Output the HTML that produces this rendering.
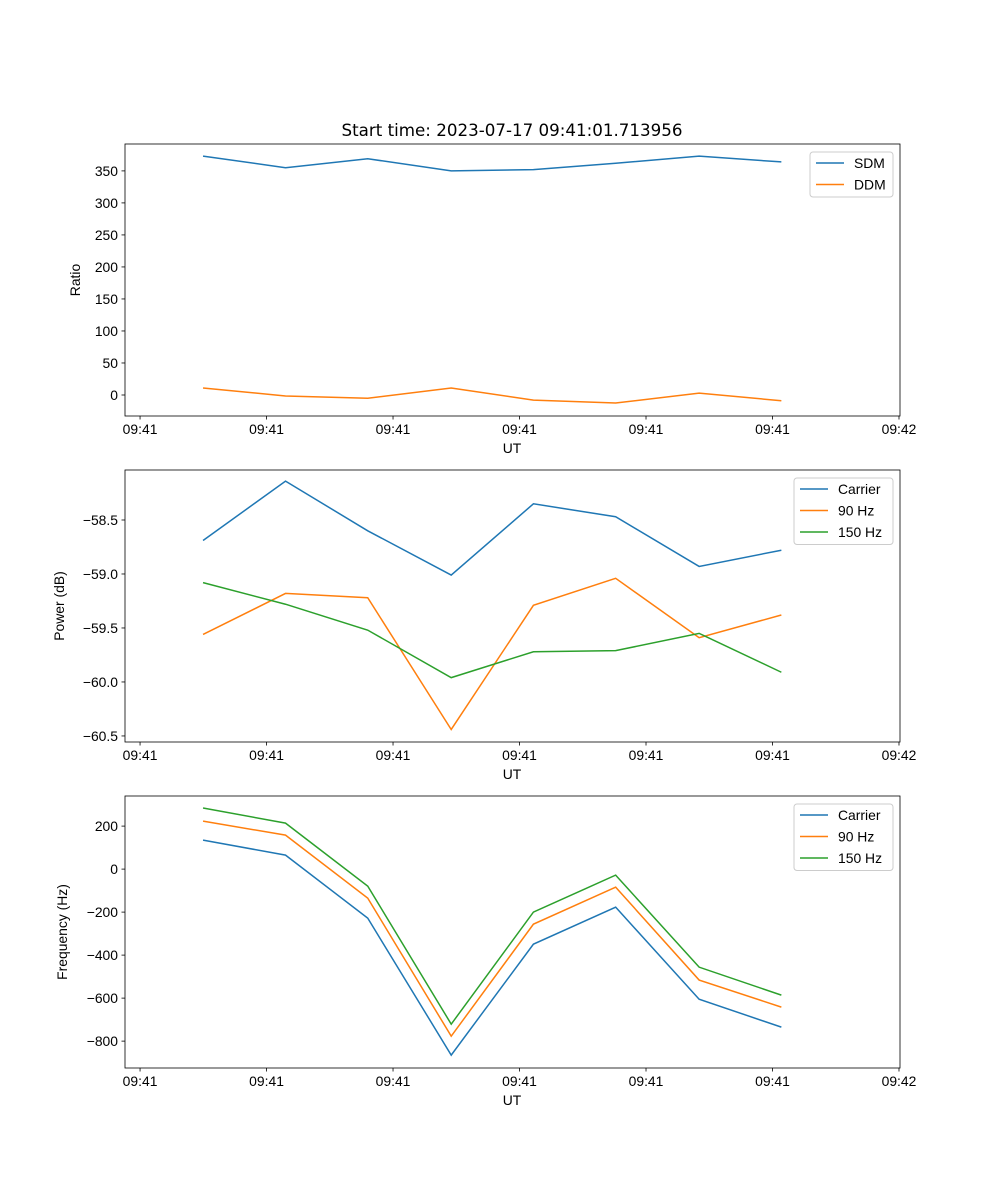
<!DOCTYPE html>
<html><head><meta charset="utf-8"><style>
body{margin:0;background:#fff}
svg{display:block;font-family:"Liberation Sans","DejaVu Sans",sans-serif}
</style></head><body>
<svg id="fig" width="1000" height="1200" viewBox="0 0 1000 1200">
<text x="512" y="136" text-anchor="middle" font-size="16.7" style="font-family:'DejaVu Sans',sans-serif">Start time: 2023-07-17 09:41:01.713956</text>
</svg>
<script>
const times=[4.98,11.5,18.0,24.6,31.1,37.6,44.2,50.7];
const xTickVals=[0,10,20,30,40,50,60];
const xTickLabels=["09:41","09:41","09:41","09:41","09:41","09:41","09:42"];
const sdm=[373,355,369,350,352,362,373,364];
const ddm=[11,-1.5,-5,11,-8,-12.5,3,-9];
const pCarrier=[-58.69,-58.14,-58.60,-59.01,-58.35,-58.47,-58.93,-58.78];
const p90=[-59.56,-59.18,-59.22,-60.44,-59.29,-59.04,-59.59,-59.38];
const p150=[-59.08,-59.28,-59.52,-59.96,-59.72,-59.71,-59.55,-59.91];
const fCarrier=[135,65,-228,-865,-349,-177,-605,-735];
const f90=[223,158,-135,-777,-256,-84,-516,-642];
const f150=[284,214,-79,-721,-200,-28,-456,-586];
const ticks1=[0,50,100,150,200,250,300,350];
const ticks2=[-58.5,-59.0,-59.5,-60.0,-60.5];
const ticks3=[200,0,-200,-400,-600,-800];

const NS="http://www.w3.org/2000/svg";
const svg=document.getElementById('fig');
function mk(tag,attrs,parent){const e=document.createElementNS(NS,tag);for(const k in attrs)e.setAttribute(k,attrs[k]);(parent||svg).appendChild(e);return e;}
const L=125,R=900,xmin=-1.19,xmax=60.08;
const xs=v=>L+(v-xmin)/(xmax-xmin)*(R-L);
const C=['#1f77b4','#ff7f0e','#2ca02c'];

function panel(id,top,bot,ymin,ymax,ticks,fmt,ylabel,ylx,series,names,leg){
  const g=mk('g',{});
  
  
  const ys=v=>bot-(v-ymin)/(ymax-ymin)*(bot-top);
  series.forEach((s,i)=>{
    const p=mk('polyline',{points:s.map((v,j)=>xs(times[j])+','+ys(v)).join(' '),fill:'none',stroke:C[i],'stroke-width':1.5},g);
    
    
  });
  const fr=mk('rect',{x:L,y:top,width:R-L,height:bot-top,fill:'none',stroke:'#000','stroke-width':0.8},g);
  
  
  xTickVals.forEach((v,i)=>{
    const x=xs(v);
    mk('line',{x1:x,x2:x,y1:bot,y2:bot+3.5,stroke:'#000','stroke-width':0.8},g);
    const t=mk('text',{x:x,y:bot+18,'text-anchor':'middle','font-size':13.9},g);
    t.textContent=xTickLabels[i];
    
    
  });
  ticks.forEach(v=>{
    const y=ys(v);
    mk('line',{x1:L,x2:L-3.5,y1:y,y2:y,stroke:'#000','stroke-width':0.8},g);
    const t=mk('text',{x:L-7,y:y+5,'text-anchor':'end','font-size':13.9},g);
    t.textContent=fmt(v);
    
    
  });
  const xl=mk('text',{x:512,y:bot+37,'text-anchor':'middle','font-size':13.9},g);
  xl.textContent='UT';
  
  
  const cy=(top+bot)/2;
  const yl=mk('text',{x:ylx,y:cy,'text-anchor':'middle','font-size':13.9,transform:'rotate(-90 '+ylx+' '+cy+')'},g);
  yl.textContent=ylabel;
  
  
  const lg=mk('g',{},g);
  
  
  mk('rect',{x:leg,y:top+8,width:893-leg,height:names.length*21.5+2,rx:3,fill:'#fff','fill-opacity':0.8,stroke:'#ccc'},lg);
  names.forEach((n,i)=>{
    const yy=top+19+i*21.5;
    mk('line',{x1:leg+6,x2:leg+34,y1:yy,y2:yy,stroke:C[i],'stroke-width':1.5},lg);
    const t=mk('text',{x:leg+44,y:yy+5,'font-size':13.9},lg);
    t.textContent=n;
    
    
  });
}
panel('ratio',144,416,-32.8,392,ticks1,v=>String(v),'Ratio',80,[sdm,ddm],['SDM','DDM'],810);
panel('power',470,742,-60.556,-58.037,ticks2,v=>'\u2212'+Math.abs(v).toFixed(1),'Power (dB)',64,[pCarrier,p90,p150],['Carrier','90 Hz','150 Hz'],794);
panel('frequency',796,1068,-925,340,ticks3,v=>v<0?'\u2212'+Math.abs(v):String(v),'Frequency (Hz)',67,[fCarrier,f90,f150],['Carrier','90 Hz','150 Hz'],794);
</script>
</body></html>
